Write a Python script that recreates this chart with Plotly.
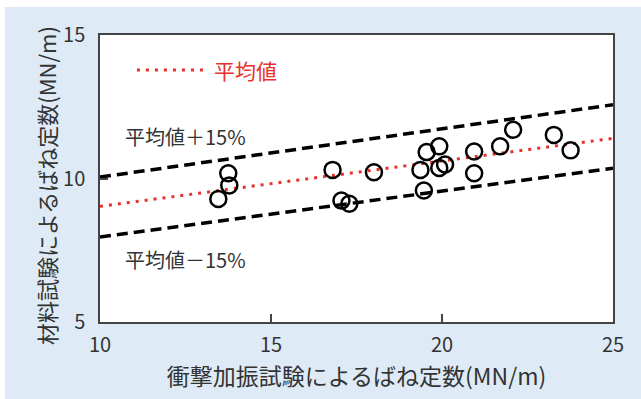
import plotly.graph_objects as go

# --- data ---
impact_k = [13.46, 13.75, 13.78, 16.80, 17.06, 17.29, 18.01,
            19.37, 19.47, 19.55, 19.92, 19.92, 20.09, 20.94, 20.94,
            21.70, 22.08, 23.27, 23.76]
material_k = [9.29, 10.18, 9.76, 10.30, 9.23, 9.12, 10.22,
              10.30, 9.58, 10.92, 11.12, 10.37, 10.49, 10.94, 10.18,
              11.12, 11.70, 11.52, 10.98]
line_x = [10, 25]
mean_y = [9.03, 11.40]
upper_y = [10.05, 12.57]
lower_y = [7.96, 10.36]
x_ticks = [10, 15, 20, 25]
y_ticks = [5, 10, 15]

FONT = "Noto Sans CJK JP"
TXT = "#333333"
BLUE = "#deebf6"
RED = "#e8302c"

fig = go.Figure()
fig.add_trace(go.Scatter(x=line_x, y=mean_y, mode="lines",
                         line=dict(color=RED, width=3, dash="3px,6px"),
                         showlegend=False, hoverinfo="skip"))
for yy in (upper_y, lower_y):
    fig.add_trace(go.Scatter(x=line_x, y=yy, mode="lines",
                             line=dict(color="black", width=3.5, dash="11px,6px"),
                             showlegend=False, hoverinfo="skip"))
fig.add_trace(go.Scatter(x=impact_k, y=material_k, mode="markers",
                         marker=dict(symbol="circle-open", size=16, color="black",
                                     line=dict(color="black", width=2.5)),
                         showlegend=False))

axis_common = dict(showline=True, mirror=True, linecolor="#444444", linewidth=1.5,
                   ticks="inside", ticklen=8, tickcolor="#444444", tickwidth=1.5,
                   showgrid=False, zeroline=False,
                   tickfont=dict(family=FONT, size=20, color=TXT))

fig.update_xaxes(range=[10, 25], tickvals=x_ticks, ticklabelstandoff=4, **axis_common,
                 title=dict(text="衝撃加振試験によるばね定数(MN/m)",
                            font=dict(family=FONT, size=23, color=TXT), standoff=6))
fig.update_yaxes(range=[5, 15], tickvals=y_ticks, ticklabelstandoff=9, **axis_common)

fig.update_layout(
    width=641, height=399,
    margin=dict(l=100, r=28, t=35, b=77),
    paper_bgcolor=BLUE, plot_bgcolor="white",
    font=dict(family=FONT, color=TXT),
    shapes=[
        dict(type="rect", xref="paper", yref="paper", x0=-0.3, x1=1.2,
             y0=1.0976, y1=1.2, fillcolor="white", line=dict(width=0), layer="above"),
        dict(type="rect", xref="paper", yref="paper", x0=-0.3, x1=-0.1852,
             y0=-0.3, y1=1.2, fillcolor="white", line=dict(width=0), layer="above"),
        dict(type="line", xref="paper", yref="paper", x0=0.072, x1=0.2105,
             y0=0.878, y1=0.878, line=dict(color=RED, width=3, dash="3px,6px")),
    ],
    annotations=[
        dict(text="材料試験によるばね定数(MN/m)", xref="paper", yref="paper",
             x=-0.105, y=0.474, xanchor="center", yanchor="middle", textangle=-90,
             showarrow=False, font=dict(family=FONT, size=22, color=TXT)),
        dict(text="平均値", xref="paper", yref="paper", x=0.2183, y=0.878,
             xanchor="left", yanchor="middle", showarrow=False,
             font=dict(family=FONT, size=21, color=RED)),
        dict(text="平均値＋15%", xref="paper", yref="paper", x=0.0448, y=0.6446,
             xanchor="left", yanchor="middle", showarrow=False,
             font=dict(family=FONT, size=20, color=TXT)),
        dict(text="平均値－15%", xref="paper", yref="paper", x=0.0448, y=0.2195,
             xanchor="left", yanchor="middle", showarrow=False,
             font=dict(family=FONT, size=20, color=TXT)),
    ],
)

fig.write_html("out.html")
